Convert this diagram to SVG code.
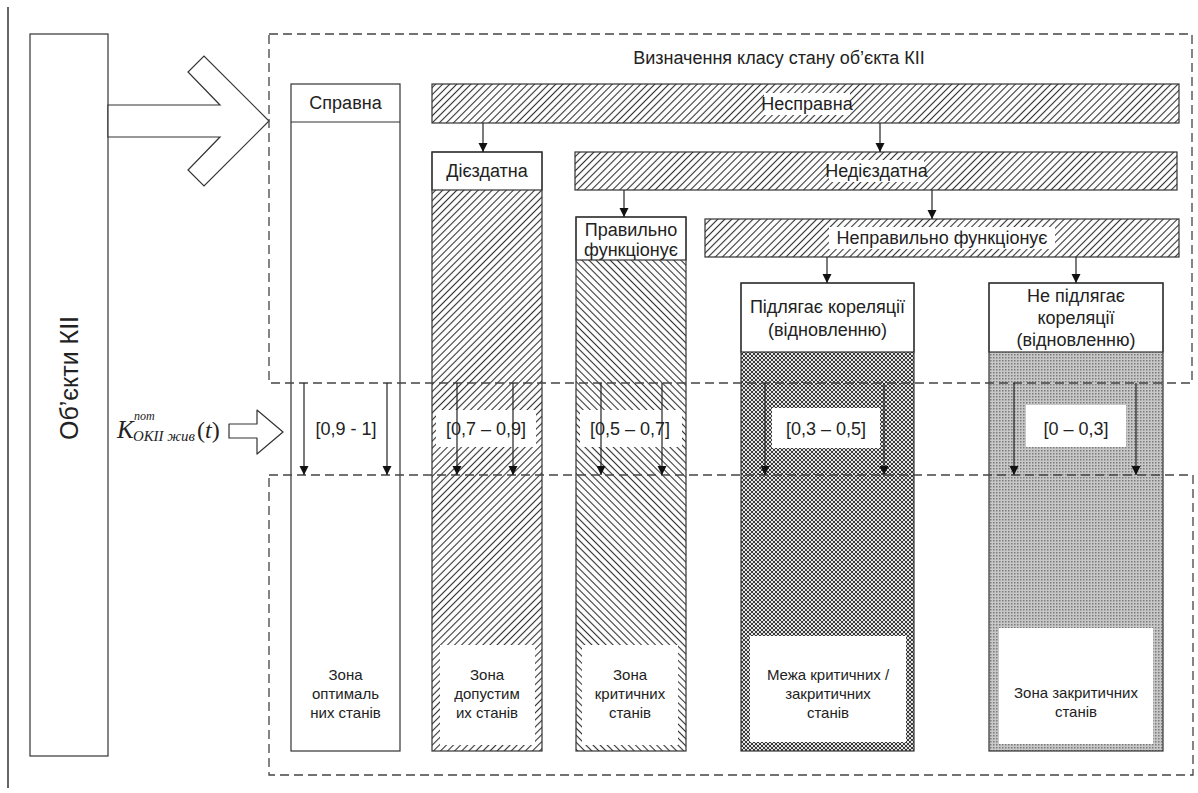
<svg xmlns="http://www.w3.org/2000/svg" width="1198" height="793" viewBox="0 0 1198 793">
<style>
  .box{fill:#fff;stroke:#333;stroke-width:1.2}
  .pane{fill:none;stroke:#444;stroke-width:1.3;stroke-dasharray:9 5}
  .t{font-family:"Liberation Sans",Arial,sans-serif;fill:#222;text-anchor:middle}
  .h{font-size:18px}
  .s{font-size:15px}
  .lab{fill:#fff;stroke:none}
  .con{stroke:#222;stroke-width:1.2;fill:none;marker-end:url(#ah)}
</style>
<defs>
  <marker id="ah" markerUnits="userSpaceOnUse" markerWidth="9" markerHeight="10" refX="9" refY="4.5" orient="auto">
    <path d="M0,0 L9,4.5 L0,9 z" fill="#111"/>
  </marker>
  <pattern id="hf" patternUnits="userSpaceOnUse" width="5" height="5" patternTransform="rotate(45)">
    <rect width="5" height="5" fill="#fff"/>
    <line x1="2.5" y1="0" x2="2.5" y2="5" stroke="#333" stroke-width="1.1"/>
  </pattern>
  <pattern id="hb" patternUnits="userSpaceOnUse" width="5" height="5" patternTransform="rotate(-45)">
    <rect width="5" height="5" fill="#fff"/>
    <line x1="2.5" y1="0" x2="2.5" y2="5" stroke="#333" stroke-width="1.1"/>
  </pattern>
  <pattern id="cx" patternUnits="userSpaceOnUse" width="4" height="4">
    <rect width="4" height="4" fill="#e4e4e4"/>
    <path d="M0,0 L4,4 M4,0 L0,4" stroke="#3a3a3a" stroke-width="1"/>
  </pattern>
  <pattern id="dt" patternUnits="userSpaceOnUse" width="3" height="3">
    <rect width="3" height="3" fill="#c8c8c8"/>
    <rect width="1.5" height="1.5" fill="#7a7a7a"/>
  </pattern>
</defs>
<rect width="1198" height="793" fill="#fff"/>
<line x1="8" y1="7" x2="8" y2="788" stroke="#333" stroke-width="1.5"/>

<g id="objects">
  <rect class="box" x="30" y="34" width="78" height="722"/>
  <text class="t" font-size="25" transform="translate(78,378) rotate(-90)">Об’єкти КІІ</text>
</g>
<g id="big-arrow">
  <polygon points="108,105 220,105 188,72 204,56 269,121 204,186 188,170 220,137 108,137" fill="#fff" stroke="#333" stroke-width="1.2" stroke-linejoin="miter"/>
</g>

<g id="k-input">
  <text font-family="Liberation Serif,'Times New Roman',serif" font-style="italic" fill="#222" font-size="25" x="117" y="438">K</text>
  <text font-family="Liberation Serif,'Times New Roman',serif" font-style="italic" fill="#222" font-size="12" x="134" y="420">пот</text>
  <text font-family="Liberation Serif,'Times New Roman',serif" font-style="italic" fill="#222" font-size="14" x="133" y="441" textLength="62" lengthAdjust="spacingAndGlyphs">ОКІІ жив</text>
  <text font-family="Liberation Serif,'Times New Roman',serif" fill="#222" font-size="24" x="197" y="438">(<tspan font-style="italic">t</tspan>)</text>
  <polygon points="229,424 257,424 257,410 283,432 257,454 257,438 229,438" fill="#fff" stroke="#333" stroke-width="1.2" stroke-linejoin="round"/>
</g>

<g id="spravna">
  <rect class="box" x="291" y="84" width="109" height="667"/>
  <line x1="291" y1="122" x2="400" y2="122" stroke="#333" stroke-width="1.2"/>
  <text class="t h" x="345.5" y="109">Справна</text>
  <text class="t h" x="346" y="435">[0,9 - 1]</text>
  <text class="t s" x="345.5" y="680">Зона</text>
  <text class="t s" x="345.5" y="699">оптималь</text>
  <text class="t s" x="345.5" y="718">них станів</text>
</g>

<g id="diezdatna">
  <rect x="432" y="190" width="110" height="561" fill="url(#hf)"/>
  <rect class="box" x="432" y="152" width="110" height="38"/>
  <rect x="432" y="152" width="110" height="599" fill="none" stroke="#333" stroke-width="1.2"/>
  <text class="t h" x="487" y="177">Дієздатна</text>
  <rect class="lab" x="436" y="410" width="100" height="37"/>
  <text class="t h" x="486" y="435">[0,7 – 0,9]</text>
  <rect class="lab" x="440" y="645" width="95" height="100"/>
  <text class="t s" x="487" y="680">Зона</text>
  <text class="t s" x="487" y="699">допустим</text>
  <text class="t s" x="487" y="718">их станів</text>
</g>

<g id="pravylno">
  <rect x="576" y="260" width="110" height="491" fill="url(#hb)"/>
  <rect class="box" x="576" y="217" width="110" height="43"/>
  <rect x="576" y="217" width="110" height="534" fill="none" stroke="#333" stroke-width="1.2"/>
  <text class="t h" x="631" y="236">Правильно</text>
  <text class="t h" x="631" y="256">функціонує</text>
  <rect class="lab" x="580" y="410" width="102" height="37"/>
  <text class="t h" x="630" y="435">[0,5 – 0,7]</text>
  <rect class="lab" x="582" y="645" width="96" height="100"/>
  <text class="t s" x="630" y="680">Зона</text>
  <text class="t s" x="630" y="699">критичних</text>
  <text class="t s" x="630" y="718">станів</text>
</g>

<g id="pidlyagae">
  <rect x="741" y="352" width="173" height="399" fill="url(#cx)"/>
  <rect class="box" x="741" y="283" width="173" height="69"/>
  <rect x="741" y="283" width="173" height="468" fill="none" stroke="#333" stroke-width="1.2"/>
  <text class="t h" x="827.5" y="313">Підлягає кореляції</text>
  <text class="t h" x="827.5" y="336">(відновленню)</text>
  <rect class="lab" x="772" y="408" width="108" height="40"/>
  <text class="t h" x="826" y="435">[0,3 – 0,5]</text>
  <rect class="lab" x="750" y="636" width="156" height="106"/>
  <text class="t s" x="828" y="680">Межа критичних /</text>
  <text class="t s" x="828" y="699">закритичних</text>
  <text class="t s" x="828" y="718">станів</text>
</g>

<g id="ne-pidlyagae">
  <rect x="989" y="352" width="174" height="399" fill="url(#dt)"/>
  <rect class="box" x="989" y="283" width="174" height="69"/>
  <rect x="989" y="283" width="174" height="468" fill="none" stroke="#333" stroke-width="1.2"/>
  <text class="t h" x="1076" y="302">Не підлягає</text>
  <text class="t h" x="1076" y="324">кореляції</text>
  <text class="t h" x="1076" y="346">(відновленню)</text>
  <rect class="lab" x="1026" y="405" width="100" height="42"/>
  <text class="t h" x="1076" y="435">[0 – 0,3]</text>
  <rect class="lab" x="999" y="628" width="154" height="116"/>
  <text class="t s" x="1076" y="698">Зона закритичних</text>
  <text class="t s" x="1076" y="717">станів</text>
</g>

<g id="nespravna">
  <rect x="432" y="84" width="747" height="39" fill="url(#hf)" stroke="#333" stroke-width="1.2"/>
  <rect class="lab" x="764" y="93" width="86" height="22"/>
  <text class="t h" x="807" y="110">Несправна</text>
</g>
<g id="nediezdatna">
  <rect x="575" y="152" width="602" height="38" fill="url(#hf)" stroke="#333" stroke-width="1.2"/>
  <rect class="lab" x="829" y="160" width="95" height="22"/>
  <text class="t h" x="876.5" y="177">Недієздатна</text>
</g>
<g id="nepravylno">
  <rect x="705" y="219" width="474" height="38" fill="url(#hf)" stroke="#333" stroke-width="1.2"/>
  <rect class="lab" x="829" y="227" width="226" height="22"/>
  <text class="t h" x="942" y="244">Неправильно функціонує</text>
</g>

<g id="panels">
  <rect class="pane" x="269" y="34" width="923" height="349"/>
  <text class="t h" x="779" y="64">Визначення класу стану об’єкта КІІ</text>
  <rect class="pane" x="269" y="475" width="924" height="300"/>
</g>

<g id="connectors">
  <line class="con" x1="483" y1="123" x2="483" y2="152"/>
  <line class="con" x1="880" y1="123" x2="880" y2="152"/>
  <line class="con" x1="624" y1="190" x2="624" y2="217"/>
  <line class="con" x1="932" y1="190" x2="932" y2="219"/>
  <line class="con" x1="827" y1="257" x2="827" y2="283"/>
  <line class="con" x1="1076" y1="257" x2="1076" y2="283"/>
  <line class="con" x1="304" y1="383" x2="304" y2="475"/>
  <line class="con" x1="387" y1="383" x2="387" y2="475"/>
  <line class="con" x1="457" y1="383" x2="457" y2="475"/>
  <line class="con" x1="513" y1="383" x2="513" y2="475"/>
  <line class="con" x1="601" y1="383" x2="601" y2="475"/>
  <line class="con" x1="662" y1="383" x2="662" y2="475"/>
  <line class="con" x1="765" y1="383" x2="765" y2="475"/>
  <line class="con" x1="884" y1="383" x2="884" y2="475"/>
  <line class="con" x1="1014" y1="383" x2="1014" y2="475"/>
  <line class="con" x1="1136" y1="383" x2="1136" y2="475"/>
</g>
</svg>
